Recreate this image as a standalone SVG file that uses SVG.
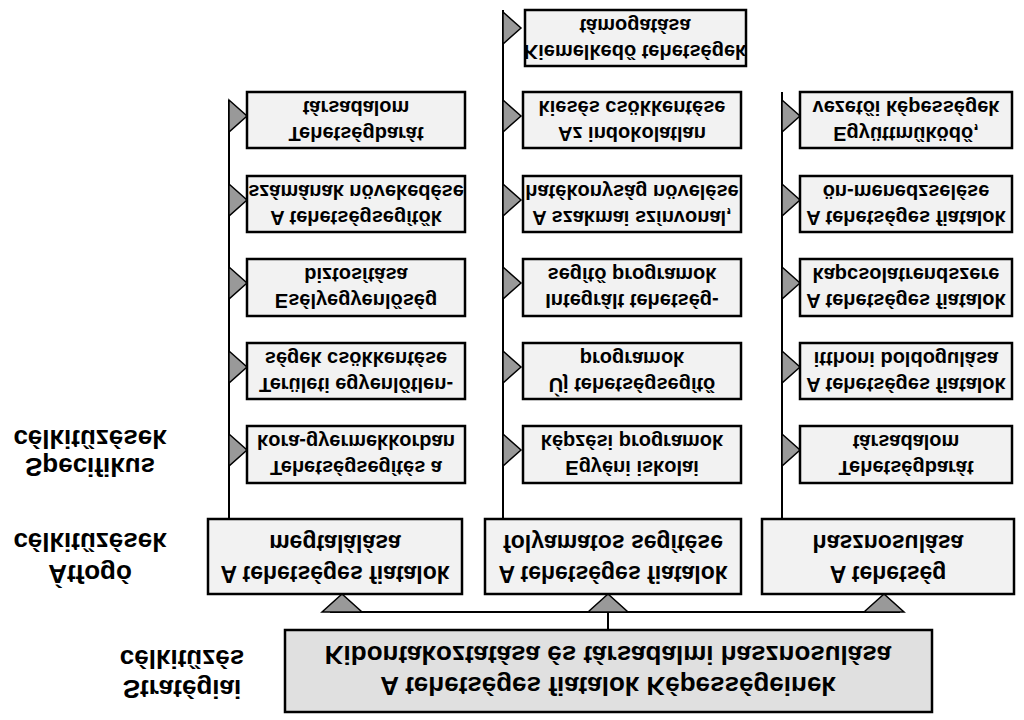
<svg xmlns="http://www.w3.org/2000/svg" width="1024" height="720" viewBox="0 0 1024 720">
<style>
.b{fill:#f2f2f2;stroke:#000;stroke-width:2.5}
.m{fill:#e0e0e0;stroke:#000;stroke-width:2.5}
.l{stroke:#000;stroke-width:2;fill:none}
.t{fill:#999;stroke:#000;stroke-width:1.5}
text{font-family:"Liberation Sans",Arial,sans-serif;font-weight:bold;text-anchor:middle;fill:#000}
.s{font-size:20px}.n{font-size:23px}.g{font-size:26px}.h{font-size:26px}
</style>
<rect width="1024" height="720" fill="#fff"/>
<g id="connectors">
<path class="l" d="M330 612H900M608 612V630M229 519V100M503 519V10M782 519V92"/>
<path class="t" d="M322 612L342 594L362 612Z M588 612L608 594L628 612Z M864 612L884 594L904 612Z"/>
<path class="t" d="M229 100L247 116L229 132Z M229 184L247 200L229 216Z M229 267L247 283L229 299Z M229 351L247 367L229 383Z M229 434L247 450L229 466Z"/>
<path class="t" d="M503 12L521 28L503 44Z M503 100L521 116L503 132Z M503 184L521 200L503 216Z M503 267L521 283L503 299Z M503 351L521 367L503 383Z M503 434L521 450L503 466Z"/>
<path class="t" d="M782 100L800 116L782 132Z M782 184L800 200L782 216Z M782 267L800 283L782 299Z M782 351L800 367L782 383Z M782 434L800 450L782 466Z"/>
</g>
<g id="strategic"><rect class="m" x="285" y="630" width="647" height="82"/></g>
<g id="atfogo1"><rect class="b" x="208" y="519" width="254" height="75"/></g>
<g id="atfogo2"><rect class="b" x="485" y="519" width="256" height="75"/></g>
<g id="atfogo3"><rect class="b" x="762" y="519" width="252" height="75"/></g>
<g id="boxes">
<rect class="b" x="247" y="92" width="218" height="56"/><rect class="b" x="247" y="176" width="218" height="56"/><rect class="b" x="247" y="259" width="218" height="57"/><rect class="b" x="247" y="343" width="218" height="56"/><rect class="b" x="247" y="426" width="218" height="57"/>
<rect class="b" x="525" y="10" width="221" height="56"/><rect class="b" x="523" y="92" width="218" height="56"/><rect class="b" x="523" y="176" width="218" height="56"/><rect class="b" x="523" y="259" width="218" height="57"/><rect class="b" x="523" y="343" width="218" height="56"/><rect class="b" x="523" y="426" width="218" height="57"/>
<rect class="b" x="800" y="92" width="212" height="56"/><rect class="b" x="800" y="176" width="212" height="56"/><rect class="b" x="800" y="259" width="212" height="57"/><rect class="b" x="800" y="343" width="212" height="56"/><rect class="b" x="800" y="426" width="212" height="57"/>
</g>
<g id="texts" transform="matrix(1,0,0,-1,0,720)">
<text class="g" x="608" y="43">A tehetséges fiatalok Képességeinek</text>
<text class="g" x="608" y="74">Kibontakoztatása és társadalmi hasznosulása</text>
<text class="h" x="182" y="40">Stratégiai</text><text class="h" x="182" y="70">célkitűzés</text>
<text class="h" x="90" y="155">Átfogó</text><text class="h" x="90" y="187">célkitűzések</text>
<text class="h" x="90" y="262">Specifikus</text><text class="h" x="90" y="290">célkitűzések</text>
<text class="n" x="335" y="154">A tehetséges fiatalok</text><text class="n" x="335" y="185">megtalálása</text>
<text class="n" x="613" y="154">A tehetséges fiatalok</text><text class="n" x="613" y="185">folyamatos segítése</text>
<text class="n" x="888" y="154">A tehetség</text><text class="n" x="888" y="185">hasznosulása</text>
<text class="s" x="356" y="593">Tehetségbarát</text><text class="s" x="356" y="619">társadalom</text>
<text class="s" x="356" y="509">A tehetségsegítők</text><text class="s" x="356" y="535">számának növekedése</text>
<text class="s" x="356" y="426">Esélyegyenlőség</text><text class="s" x="356" y="452">biztosítása</text>
<text class="s" x="356" y="342">Területi egyenlőtlen-</text><text class="s" x="356" y="368">ségek csökkentése</text>
<text class="s" x="356" y="259">Tehetségsegítés a</text><text class="s" x="356" y="285">kora-gyermekkorban</text>
<text class="s" x="635" y="675">Kiemelkedő tehetségek</text><text class="s" x="635" y="701">támogatása</text>
<text class="s" x="632" y="593">Az indokolatlan</text><text class="s" x="632" y="619">kiesés csökkentése</text>
<text class="s" x="632" y="509">A szakmai színvonal,</text><text class="s" x="632" y="535">hatékonyság növelése</text>
<text class="s" x="632" y="426">Integrált tehetség-</text><text class="s" x="632" y="452">segítő programok</text>
<text class="s" x="632" y="342">Új tehetségsegítő</text><text class="s" x="632" y="368">programok</text>
<text class="s" x="632" y="259">Egyéni iskolai</text><text class="s" x="632" y="285">képzési programok</text>
<text class="s" x="906" y="593">Együttműködő,</text><text class="s" x="906" y="619">vezetői képességek</text>
<text class="s" x="906" y="509">A tehetséges fiatalok</text><text class="s" x="906" y="535">ön-menedzselése</text>
<text class="s" x="906" y="426">A tehetséges fiatalok</text><text class="s" x="906" y="452">kapcsolatrendszere</text>
<text class="s" x="906" y="342">A tehetséges fiatalok</text><text class="s" x="906" y="368">itthoni boldogulása</text>
<text class="s" x="906" y="259">Tehetségbarát</text><text class="s" x="906" y="285">társadalom</text>
</g>
</svg>
